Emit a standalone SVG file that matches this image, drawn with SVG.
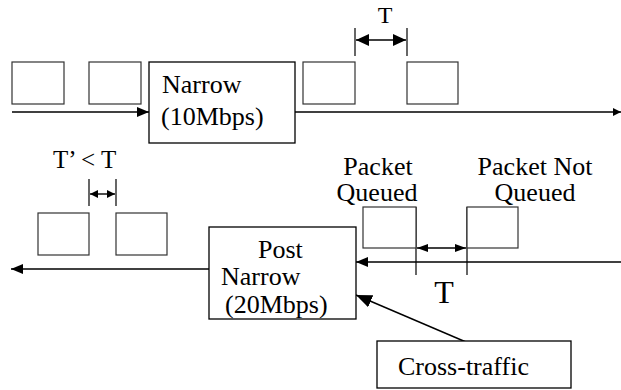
<svg xmlns="http://www.w3.org/2000/svg" width="621" height="390" viewBox="0 0 621 390">
<style>
  .pkt{fill:#fff;stroke:#333;stroke-width:1.2}
  .node{fill:#fff;stroke:#000;stroke-width:1.3}
  .ln{fill:none;stroke:#000;stroke-width:1.4}
  .tk{fill:none;stroke:#000;stroke-width:1.2}
  text{font-family:"Liberation Serif","Times New Roman",serif;font-size:26px;fill:#000}
  .c{text-anchor:middle}
  .s24{font-size:24px}
  .s25{font-size:25px}
  .big{font-size:32px}
</style>
<defs>
  <marker id="ahL" viewBox="0 0 12 10" refX="12" refY="5" markerWidth="12" markerHeight="10" markerUnits="userSpaceOnUse" orient="auto-start-reverse"><path d="M0,0 L12,5 L0,10z" fill="#000"/></marker>
  <marker id="ahS" viewBox="0 0 8 8" refX="8" refY="4" markerWidth="8" markerHeight="8" markerUnits="userSpaceOnUse" orient="auto-start-reverse"><path d="M0,0 L8,4 L0,8z" fill="#000"/></marker>
  <marker id="ahT" viewBox="0 0 13 12" refX="13" refY="6" markerWidth="13" markerHeight="12" markerUnits="userSpaceOnUse" orient="auto-start-reverse"><path d="M0,0 L13,6 L0,12z" fill="#000"/></marker>
  <marker id="ahD" viewBox="0 0 11 8" refX="11" refY="4" markerWidth="11" markerHeight="8" markerUnits="userSpaceOnUse" orient="auto-start-reverse"><path d="M0,0 L11,4 L0,8z" fill="#000"/></marker>
  <marker id="ahB" viewBox="0 0 16 13" refX="16" refY="6.5" markerWidth="16" markerHeight="13" markerUnits="userSpaceOnUse" orient="auto"><path d="M0,0 L16,6.5 L0,13z" fill="#000"/></marker>
</defs>

<g id="connectors">
  <line class="ln" x1="12" y1="112" x2="149" y2="112" marker-end="url(#ahL)"/>
  <line class="ln" x1="295" y1="112" x2="621" y2="112" marker-end="url(#ahS)"/>
  <line class="ln" x1="621" y1="262" x2="356" y2="262" marker-end="url(#ahL)"/>
  <line class="ln" x1="209" y1="269" x2="11" y2="269" marker-end="url(#ahL)"/>
  <line class="ln" x1="473" y1="345" x2="356" y2="295" stroke-width="2" marker-end="url(#ahB)"/>
  <!-- dimension T (top) -->
  <line class="tk" x1="355" y1="28" x2="355" y2="56"/>
  <line class="tk" x1="407" y1="28" x2="407" y2="56"/>
  <line class="ln" x1="356" y1="40" x2="406" y2="40" marker-start="url(#ahT)" marker-end="url(#ahT)"/>
  <!-- dimension T' -->
  <line class="tk" x1="89" y1="179" x2="89" y2="206"/>
  <line class="tk" x1="116" y1="179" x2="116" y2="206"/>
  <line class="ln" x1="90" y1="194" x2="115" y2="194" marker-start="url(#ahS)" marker-end="url(#ahS)"/>
  <!-- dimension T (queued) -->
  <line class="tk" x1="416" y1="207" x2="416" y2="275"/>
  <line class="tk" x1="467" y1="207" x2="467" y2="275"/>
  <line class="ln" x1="417" y1="248" x2="466" y2="248" marker-start="url(#ahD)" marker-end="url(#ahD)"/>
</g>

<g id="packets-top">
  <rect class="pkt" x="12" y="62" width="52" height="42"/>
  <rect class="pkt" x="89" y="62" width="52" height="42"/>
  <rect class="pkt" x="303" y="62" width="52" height="42"/>
  <rect class="pkt" x="407" y="62" width="51" height="42"/>
</g>

<g id="narrow">
  <rect class="node" x="149" y="62" width="146" height="81"/>
  <text x="162" y="93">Narrow</text>
  <text x="161" y="125">(10Mbps)</text>
</g>

<g id="packets-bottom">
  <rect class="pkt" x="38" y="213" width="51" height="42"/>
  <rect class="pkt" x="116" y="213" width="51" height="42"/>
</g>

<g id="packet-queued">
  <rect class="pkt" x="363" y="207" width="53" height="41"/>
  <text class="c" x="378" y="175">Packet</text>
  <text class="c" x="377" y="201">Queued</text>
</g>

<g id="packet-not-queued">
  <rect class="pkt" x="467" y="207" width="51" height="41"/>
  <text class="c" x="535" y="175">Packet Not</text>
  <text class="c" x="535" y="201">Queued</text>
</g>

<g id="post-narrow">
  <rect class="node" x="209" y="227" width="147" height="92"/>
  <text x="258" y="258">Post</text>
  <text x="221" y="285">Narrow</text>
  <text x="225" y="313">(20Mbps)</text>
</g>

<g id="cross-traffic">
  <rect class="node" x="377" y="341" width="194" height="47"/>
  <text x="398" y="375">Cross-traffic</text>
</g>

<g id="labels">
  <text class="c s24" x="385" y="23">T</text>
  <text class="s25" x="53" y="168">T’ &lt; T</text>
  <text class="c big" x="444" y="303">T</text>
</g>
</svg>
